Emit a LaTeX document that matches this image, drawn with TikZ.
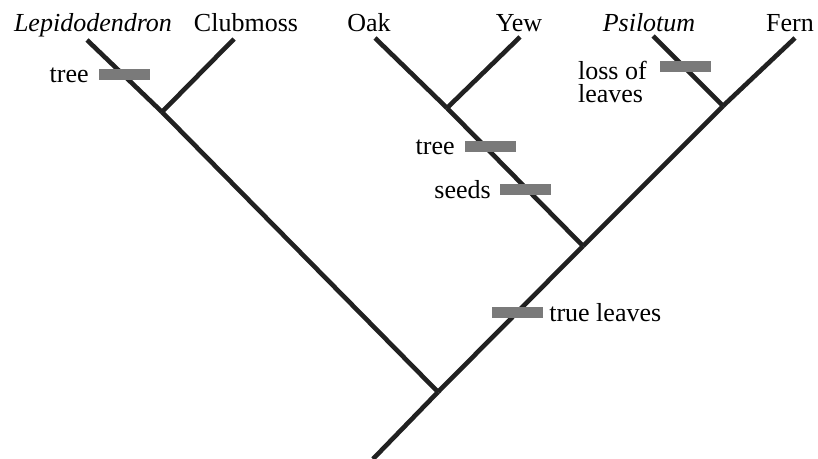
\documentclass[tikz,border=0pt]{standalone}
\usepackage{fontspec}
\setmainfont{Liberation Serif}
\usetikzlibrary{positioning}

\begin{document}
\begin{tikzpicture}[x=0.5pt,y=-0.5pt,
        branch/.style={draw=black!87,line width=2.3pt},
        trait/.style={rectangle,fill=black!52,minimum width=25.5pt,minimum height=5.5pt,inner sep=0pt},
        taxon/.style={anchor=base,inner sep=0pt,font=\fontsize{13}{15}\selectfont},
        note/.style={inner sep=0pt,font=\fontsize{13}{11.5}\selectfont}]

            % \draw [help lines] (0,0) grid (818,459);
            \useasboundingbox (0,0) rectangle (818,459);

            \path   (373,459) coordinate (root)
                    (438,392) coordinate (n1)
                    (162,112) coordinate (n2)
                    (583,246) coordinate (n3)
                    (447,108) coordinate (n4)
                    (723,106) coordinate (n5)
                    (87,40)   coordinate (lepi)
                    (234,39)  coordinate (club)
                    (375,38)  coordinate (oak)
                    (520,37)  coordinate (yew)
                    (653,36)  coordinate (psil)
                    (795,38)  coordinate (fern);

            \draw[branch] (root) -- (n1);
            \draw[branch] (n1) -- (n2);
            \draw[branch] (n2) -- (lepi);
            \draw[branch] (n2) -- (club);
            \draw[branch] (n1) -- (n3);
            \draw[branch] (n3) -- (n4);
            \draw[branch] (n4) -- (oak);
            \draw[branch] (n4) -- (yew);
            \draw[branch] (n3) -- (n5);
            \draw[branch] (n5) -- (psil);
            \draw[branch] (n5) -- (fern);

            \node (lepilab) [taxon,font=\fontsize{13}{15}\selectfont\itshape] at (93,32) {Lepidodendron};
            \node (clublab) [taxon] at (246,32) {Clubmoss};
            \node (oaklab)  [taxon] at (369,32) {Oak};
            \node (yewlab)  [taxon] at (519,32) {Yew};
            \node (psillab) [taxon,font=\fontsize{13}{15}\selectfont\itshape] at (649,32) {Psilotum};
            \node (fernlab) [taxon] at (790,32) {Fern};

            % characters
            \node (treeA)  [trait] at (124,75) {};
            \node (treeB)  [trait] at (490,147) {};
            \node (seeds)  [trait] at (525,190) {};
            \node (leaves) [trait] at (517,313) {};
            \node (loss)   [trait] at (685,67) {};

            \node (treeAlab)  [note,left=4.5pt of treeA] {tree};
            \node (treeBlab)  [note,left=4.5pt of treeB] {tree};
            \node (seedslab)  [note,left=4pt of seeds] {seeds};
            \node (leaveslab) [note,right=3pt of leaves] {true leaves};
            \node (losslab)   [note,align=left,left=6pt of loss.north west,anchor=north east] {loss of\\leaves};

\end{tikzpicture}
\end{document}
